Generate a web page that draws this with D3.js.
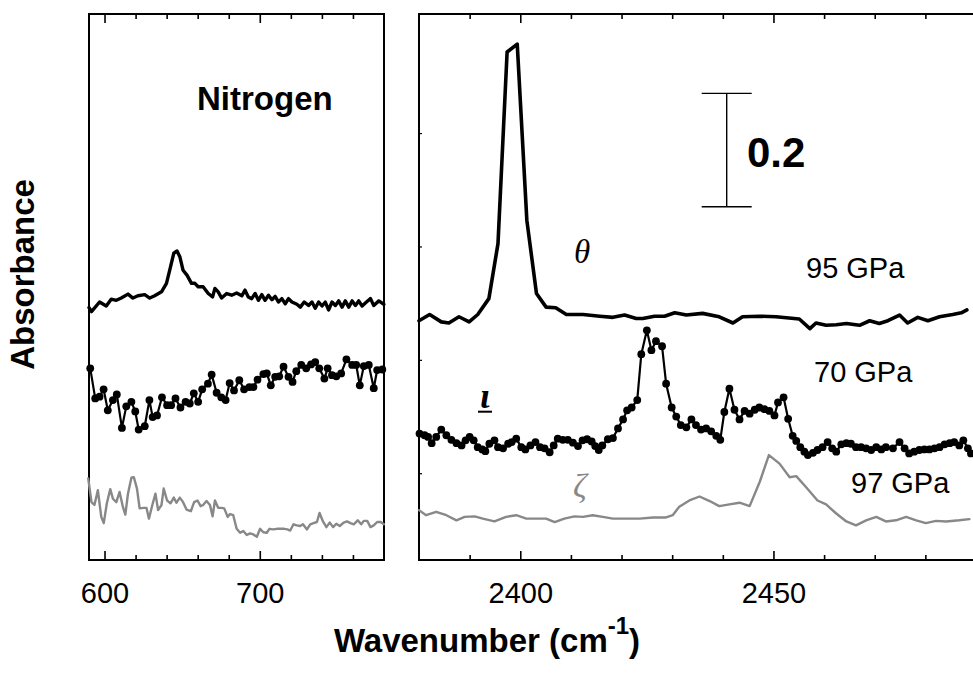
<!DOCTYPE html>
<html>
<head>
<meta charset="utf-8">
<script src="https://cdn.jsdelivr.net/npm/d3@7"></script>
<style>
  html, body { margin: 0; padding: 0; background: #fff; }
  svg { display: block; }
</style>
</head>
<body>
<svg id="chart" width="973" height="674"></svg>
<script>
// Nitrogen IR absorbance spectra: low-frequency window (left) and N–N stretch window (right).
// Each series is [wavenumber (cm^-1), offset absorbance].

// Left window, 95 GPa (theta phase), solid black
const lowTheta = [[590,0.292],[591.6,0.285],[596.8,0.302],[601.1,0.295],[604.3,0.307],[607.6,0.305],[610.8,0.309],[615.1,0.316],[618.3,0.309],[621.5,0.313],[625.9,0.315],[629.1,0.309],[632.3,0.313],[636.7,0.320],[639.9,0.335],[642.5,0.364],[644.6,0.388],[646.7,0.392],[648.5,0.382],[650.6,0.358],[653.2,0.349],[656.0,0.335],[658.2,0.335],[660.3,0.329],[663.5,0.329],[666.8,0.317],[669.6,0.311],[671.1,0.326],[673.2,0.320],[675.4,0.309],[678.7,0.317],[681.9,0.314],[685.1,0.318],[688.4,0.313],[690.5,0.323],[692.6,0.311],[694.8,0.308],[697.0,0.317],[699.1,0.305],[701.3,0.315],[703.4,0.305],[705.6,0.314],[707.8,0.306],[709.9,0.312],[712.0,0.302],[714.2,0.308],[716.4,0.299],[718.5,0.308],[720.7,0.302],[723.9,0.298],[726.1,0.293],[728.6,0.302],[731.4,0.296],[733.6,0.302],[735.7,0.291],[737.9,0.302],[740.1,0.295],[742.2,0.302],[744.3,0.288],[746.5,0.302],[748.7,0.296],[750.8,0.304],[753.0,0.293],[755.1,0.304],[757.3,0.293],[759.5,0.304],[761.6,0.296],[763.7,0.304],[765.9,0.295],[768.7,0.302],[771.3,0.308],[773.4,0.296],[776.7,0.304],[779.9,0.298]];

// Left window, 70 GPa (iota phase), black with markers
const lowIota = [[590.8,0.185],[594.0,0.132],[596.8,0.135],[599.4,0.148],[602.1,0.111],[605.4,0.129],[607.9,0.139],[611.2,0.080],[614.0,0.118],[617.3,0.126],[619.8,0.109],[622.0,0.077],[625.9,0.083],[628.9,0.129],[631.0,0.099],[633.8,0.102],[637.0,0.134],[640.3,0.120],[642.9,0.120],[645.7,0.132],[648.9,0.116],[652.2,0.126],[654.9,0.123],[657.5,0.141],[660.3,0.126],[662.9,0.148],[666.6,0.158],[669.0,0.174],[672.2,0.142],[675.2,0.134],[678.0,0.129],[680.6,0.159],[683.4,0.146],[686.8,0.164],[689.9,0.148],[693.3,0.152],[695.9,0.152],[698.5,0.165],[702.3,0.175],[704.5,0.176],[707.1,0.155],[709.9,0.170],[712.5,0.171],[715.3,0.188],[718.5,0.170],[721.1,0.161],[723.5,0.180],[726.7,0.191],[729.9,0.185],[733.0,0.192],[735.7,0.196],[738.3,0.185],[741.6,0.167],[743.7,0.185],[746.5,0.173],[749.3,0.171],[752.4,0.176],[755.8,0.201],[759.5,0.191],[762.1,0.191],[764.4,0.155],[767.0,0.189],[770.2,0.191],[773.4,0.150],[775.6,0.182],[778.9,0.183]];

// Left window, 97 GPa (zeta phase), grey
const lowZeta = [[589.5,-0.009],[591.6,-0.051],[593.5,-0.056],[595.7,-0.030],[597.9,-0.077],[599.5,-0.088],[601.5,-0.053],[603.7,-0.028],[605.4,-0.045],[607.6,-0.051],[609.7,-0.033],[611.8,-0.059],[613.4,-0.073],[615.1,-0.036],[617.3,-0.008],[618.9,-0.007],[620.9,-0.027],[622.6,-0.062],[625.2,-0.061],[627.0,-0.061],[628.6,-0.080],[630.8,-0.056],[632.8,-0.036],[634.5,-0.065],[636.7,-0.056],[638.1,-0.027],[640.3,-0.048],[642.5,-0.053],[644.6,-0.043],[646.3,-0.052],[648.5,-0.043],[650.6,-0.051],[652.8,-0.064],[655.6,-0.067],[657.7,-0.051],[659.9,-0.048],[661.9,-0.058],[663.5,-0.056],[665.7,-0.049],[667.9,-0.056],[669.6,-0.076],[671.1,-0.048],[673.2,-0.061],[675.4,-0.061],[677.1,-0.062],[679.3,-0.077],[680.8,-0.072],[682.9,-0.074],[685.1,-0.098],[687.3,-0.105],[689.4,-0.102],[691.6,-0.109],[693.7,-0.106],[695.9,-0.108],[698.1,-0.112],[700.2,-0.098],[702.3,-0.104],[704.5,-0.105],[706.2,-0.098],[708.8,-0.099],[711.0,-0.098],[713.1,-0.098],[715.7,-0.098],[717.8,-0.099],[719.6,-0.101],[721.7,-0.090],[723.9,-0.092],[726.0,-0.093],[727.8,-0.090],[730.4,-0.099],[732.5,-0.090],[734.6,-0.088],[736.8,-0.086],[738.5,-0.070],[740.7,-0.085],[742.9,-0.095],[745.0,-0.087],[747.2,-0.095],[749.3,-0.089],[751.5,-0.093],[754.0,-0.087],[756.2,-0.085],[758.4,-0.088],[760.5,-0.090],[763.1,-0.083],[765.3,-0.090],[767.0,-0.084],[769.2,-0.084],[771.3,-0.095],[773.4,-0.092],[775.6,-0.086],[777.8,-0.086],[779.9,-0.090]];

// Right window, 95 GPa (theta phase)
const highTheta = [[2380,0.269],[2382.1,0.280],[2384.4,0.267],[2385.9,0.265],[2387.9,0.276],[2389.9,0.267],[2391.6,0.280],[2393.8,0.308],[2395.6,0.405],[2397.4,0.743],[2399.4,0.757],[2401.3,0.446],[2403.2,0.317],[2405.1,0.293],[2407.0,0.292],[2409.1,0.280],[2412.4,0.280],[2415.7,0.277],[2418.3,0.275],[2420.6,0.279],[2422.9,0.273],[2424.2,0.273],[2426.5,0.277],[2428.5,0.277],[2430.5,0.283],[2432.8,0.279],[2436.0,0.282],[2439.3,0.276],[2442.0,0.265],[2443.9,0.276],[2447.2,0.277],[2450.5,0.276],[2455.1,0.272],[2457.2,0.255],[2458.4,0.265],[2460.4,0.261],[2462.4,0.262],[2464.4,0.264],[2467.0,0.261],[2469.0,0.269],[2470.9,0.264],[2472.6,0.269],[2474.9,0.279],[2476.5,0.265],[2478.5,0.275],[2480.5,0.269],[2482.8,0.276],[2485.4,0.280],[2487.1,0.283],[2488.2,0.288]];

// Right window, 70 GPa (iota phase)
const highIota = [[2380.1,0.070],[2381.1,0.067],[2381.8,0.064],[2382.5,0.053],[2383.4,0.064],[2384.4,0.077],[2385.4,0.067],[2386.4,0.059],[2387.4,0.053],[2388.4,0.049],[2389.2,0.058],[2390.0,0.064],[2390.8,0.058],[2391.6,0.046],[2392.5,0.042],[2393.1,0.039],[2393.9,0.052],[2394.9,0.058],[2395.6,0.046],[2396.6,0.044],[2397.6,0.052],[2398.3,0.055],[2399.2,0.061],[2400.2,0.046],[2401.0,0.042],[2402.0,0.049],[2403.0,0.055],[2403.9,0.046],[2404.8,0.044],[2405.8,0.037],[2406.6,0.049],[2407.4,0.061],[2408.4,0.059],[2409.4,0.059],[2410.4,0.054],[2411.4,0.048],[2412.3,0.058],[2413.2,0.060],[2414.1,0.056],[2414.8,0.048],[2415.5,0.041],[2416.2,0.049],[2417.3,0.060],[2418.3,0.062],[2419.3,0.079],[2420.3,0.095],[2421.1,0.111],[2422.0,0.116],[2423.1,0.129],[2423.9,0.210],[2425.0,0.252],[2425.9,0.217],[2426.8,0.233],[2428.0,0.224],[2428.8,0.158],[2429.9,0.116],[2430.8,0.100],[2431.7,0.085],[2432.8,0.081],[2433.8,0.095],[2434.7,0.085],[2435.7,0.077],[2436.7,0.079],[2437.7,0.074],[2438.7,0.066],[2439.5,0.059],[2440.3,0.108],[2441.3,0.149],[2442.3,0.112],[2443.3,0.095],[2444.3,0.110],[2445.3,0.105],[2446.3,0.112],[2447.2,0.116],[2448.2,0.113],[2449.2,0.110],[2450.2,0.102],[2450.9,0.125],[2452.0,0.134],[2452.9,0.096],[2453.8,0.066],[2454.5,0.057],[2455.3,0.046],[2456.1,0.038],[2456.8,0.032],[2457.8,0.036],[2458.7,0.041],[2459.7,0.046],[2460.7,0.055],[2461.6,0.044],[2462.4,0.038],[2463.4,0.051],[2464.4,0.053],[2465.3,0.052],[2466.3,0.046],[2467.3,0.046],[2468.3,0.044],[2469.3,0.041],[2470.3,0.046],[2471.3,0.042],[2472.2,0.046],[2473.6,0.044],[2474.9,0.055],[2475.9,0.044],[2476.8,0.035],[2477.8,0.038],[2478.8,0.041],[2479.8,0.042],[2480.8,0.042],[2481.8,0.044],[2482.8,0.046],[2483.8,0.051],[2484.8,0.053],[2485.7,0.055],[2486.7,0.049],[2487.5,0.058],[2488.4,0.044],[2489.0,0.035]];

// Right window, 97 GPa (zeta phase)
const highZeta = [[2380,-0.065],[2381.4,-0.074],[2383.4,-0.068],[2385.4,-0.074],[2387.4,-0.083],[2389.0,-0.077],[2391.0,-0.076],[2392.6,-0.080],[2394.9,-0.085],[2397.2,-0.077],[2399.2,-0.074],[2401.2,-0.080],[2403.5,-0.080],[2405.1,-0.080],[2406.8,-0.086],[2408.7,-0.080],[2410.7,-0.076],[2412.4,-0.077],[2414.3,-0.074],[2416.3,-0.077],[2418.3,-0.080],[2420.6,-0.080],[2423.6,-0.080],[2426.2,-0.078],[2428.8,-0.078],[2430.1,-0.074],[2431.4,-0.059],[2433.4,-0.048],[2435.4,-0.041],[2437.4,-0.049],[2439.3,-0.058],[2441.3,-0.055],[2443.3,-0.052],[2445.3,-0.058],[2447.3,-0.015],[2449.1,0.032],[2451.2,0.017],[2453.2,-0.007],[2454.5,-0.005],[2456.5,-0.025],[2458.7,-0.048],[2460.4,-0.055],[2462.4,-0.071],[2464.4,-0.085],[2466.3,-0.092],[2468.3,-0.083],[2470.3,-0.077],[2472.2,-0.085],[2474.2,-0.083],[2476.2,-0.077],[2478.2,-0.083],[2480.1,-0.088],[2482.1,-0.084],[2484.1,-0.085],[2486.7,-0.083],[2488.7,-0.081]];

// Axis ticks and labels
const lowMinorTicks = [620, 640, 660, 680, 720, 740, 760];
const lowMajorTicks = [600, 700];
const highMinorTicks = [2390, 2410, 2420, 2430, 2440, 2460, 2470, 2480];
const highMajorTicks = [2400, 2450];
const yTicks = [0, 0.2, 0.4, 0.6];
const pressureLabels = ["95 GPa", "70 GPa", "97 GPa"];
const scaleBarSize = 0.2;

const svg = d3.select("#chart");
const plotTop = 14, plotBottom = 560;

const xLow = d3.scaleLinear().domain([590, 780]).range([89, 384]);
const xHigh = d3.scaleLinear().domain([2380, 2490]).range([419, 976]);
const y = d3.scaleLinear().domain([-0.153, 0.81]).range([plotBottom, plotTop]);

const SANS = "'Liberation Sans', Arial, Helvetica, sans-serif";
const SERIF = "'Liberation Serif', 'Times New Roman', serif";

function panel(x, minor, major, yTickVals) {
  const g = svg.append("g");
  const [x0, x1] = x.range();
  // minor ticks bottom / top
  g.append("g").attr("transform", `translate(0,${plotBottom})`)
    .call(d3.axisBottom(x).tickValues(minor).tickSize(-5).tickFormat(""))
    .call(a => a.select(".domain").remove());
  g.append("g").attr("transform", `translate(0,${plotTop})`)
    .call(d3.axisTop(x).tickValues(minor).tickSize(-5).tickFormat(""))
    .call(a => a.select(".domain").remove());
  // major ticks with labels
  g.append("g").attr("transform", `translate(0,${plotBottom})`)
    .call(d3.axisBottom(x).tickValues(major).tickSize(-9).tickPadding(22).tickFormat(d3.format("d")))
    .call(a => a.select(".domain").remove())
    .call(a => a.selectAll("text").attr("font-family", SANS).attr("font-size", 29).attr("fill", "#000"));
  g.append("g").attr("transform", `translate(0,${plotTop})`)
    .call(d3.axisTop(x).tickValues(major).tickSize(-9).tickFormat(""))
    .call(a => a.select(".domain").remove());
  g.selectAll(".tick line").attr("stroke", "#000").attr("stroke-width", 1.6);
  if (yTickVals) {
    g.append("g").attr("transform", `translate(${x0},0)`)
      .call(d3.axisLeft(y).tickValues(yTickVals).tickSize(-3).tickFormat(""))
      .call(a => a.select(".domain").remove())
      .call(a => a.selectAll("line").attr("stroke", "#000").attr("stroke-width", 1.2));
  }
  // frame
  g.append("rect")
    .attr("x", x0).attr("y", plotTop)
    .attr("width", x1 - x0).attr("height", plotBottom - plotTop)
    .attr("fill", "none").attr("stroke", "#000").attr("stroke-width", 2);
  return g;
}

panel(xLow, lowMinorTicks, lowMajorTicks, null);
panel(xHigh, highMinorTicks, highMajorTicks, yTicks);

function drawLine(x, data, color, width) {
  const line = d3.line().x(d => x(d[0])).y(d => y(d[1]));
  svg.append("path").datum(data)
    .attr("d", line)
    .attr("fill", "none").attr("stroke", color)
    .attr("stroke-width", width)
    .attr("stroke-linejoin", "round").attr("stroke-linecap", "round");
}
function drawDots(x, data) {
  svg.append("g").selectAll("circle").data(data).join("circle")
    .attr("cx", d => x(d[0])).attr("cy", d => y(d[1]))
    .attr("r", 3.9).attr("fill", "#000");
}

// left window
drawLine(xLow, lowTheta, "#000", 3.4);
drawLine(xLow, lowIota, "#000", 2.2);
drawDots(xLow, lowIota);
drawLine(xLow, lowZeta, "#888", 2.4);

// right window (runs past the page edge)
drawLine(xHigh, highTheta, "#000", 3.6);
drawLine(xHigh, highIota, "#000", 2.2);
drawDots(xHigh, highIota);
drawLine(xHigh, highZeta, "#888", 2.4);

// scale bar for 0.2 absorbance units
const barX = 726.7, barBase = 0.47;
const bar = svg.append("g").attr("stroke", "#000").attr("stroke-width", 1.4);
bar.append("line").attr("x1", barX).attr("x2", barX).attr("y1", y(barBase)).attr("y2", y(barBase + scaleBarSize));
bar.append("line").attr("x1", barX - 25).attr("x2", barX + 25).attr("y1", y(barBase)).attr("y2", y(barBase));
bar.append("line").attr("x1", barX - 25).attr("x2", barX + 25).attr("y1", y(barBase + scaleBarSize)).attr("y2", y(barBase + scaleBarSize));
svg.append("text").attr("x", 747).attr("y", 167)
  .attr("font-family", SANS).attr("font-weight", "bold").attr("font-size", 42)
  .text(scaleBarSize.toFixed(1));

// annotations
svg.append("text").attr("x", 197).attr("y", 110)
  .attr("font-family", SANS).attr("font-weight", "bold").attr("font-size", 33)
  .text("Nitrogen");

const gpa = [[806, 278], [814, 381.7], [851, 493.3]];
pressureLabels.forEach((t, i) => {
  svg.append("text").attr("x", gpa[i][0]).attr("y", gpa[i][1])
    .attr("font-family", SANS).attr("font-size", 29).text(t);
});

svg.append("text").attr("x", 582).attr("y", 263).attr("text-anchor", "middle")
  .attr("font-family", SERIF).attr("font-style", "italic").attr("font-size", 33)
  .text("θ");
svg.append("text").attr("x", 485).attr("y", 408).attr("text-anchor", "middle")
  .attr("font-family", SERIF).attr("font-style", "italic").attr("font-weight", "bold").attr("font-size", 36)
  .text("ι");
svg.append("line").attr("x1", 478).attr("x2", 492).attr("y1", 411.7).attr("y2", 411.7)
  .attr("stroke", "#000").attr("stroke-width", 2);
svg.append("text").attr("x", 580).attr("y", 497).attr("text-anchor", "middle")
  .attr("font-family", SERIF).attr("font-style", "italic").attr("font-size", 34).attr("fill", "#888")
  .text("ζ");

// axis titles
svg.append("text")
  .attr("transform", "translate(33.5,274.5) rotate(-90)")
  .attr("text-anchor", "middle")
  .attr("font-family", SANS).attr("font-weight", "bold").attr("font-size", 33)
  .text("Absorbance");

const xt = svg.append("text").attr("x", 487).attr("y", 652).attr("text-anchor", "middle")
  .attr("font-family", SANS).attr("font-weight", "bold").attr("font-size", 33);
xt.append("tspan").text("Wavenumber (cm");
xt.append("tspan").attr("dy", -18).attr("font-size", 24).text("-1");
xt.append("tspan").attr("dy", 18).text(")");
</script>
</body>
</html>
